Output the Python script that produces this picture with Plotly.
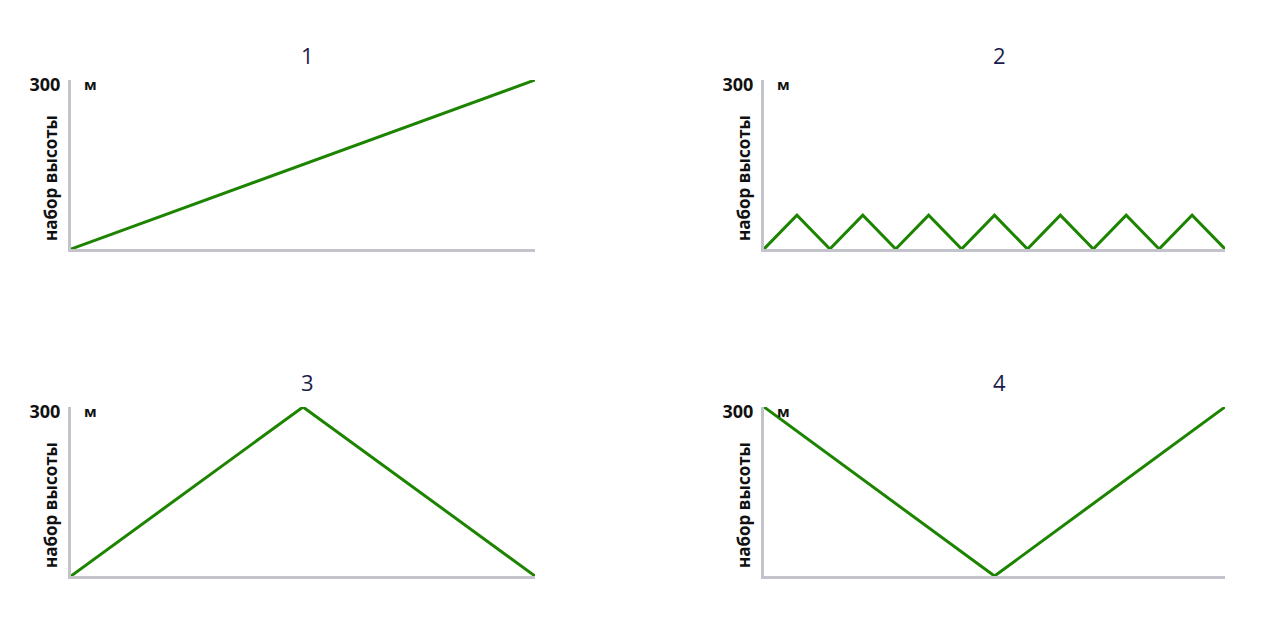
import plotly.graph_objects as go
from plotly.subplots import make_subplots

# Climb profiles (height gain, m) for four routes
titles = ["1", "2", "3", "4"]
x1 = [0, 14]
y1 = [0, 300]
x2 = list(range(15))
y2 = [0, 60, 0, 60, 0, 60, 0, 60, 0, 60, 0, 60, 0, 60, 0]
x3 = [0, 7, 14]
y3 = [0, 300, 0]
x4 = [0, 7, 14]
y4 = [300, 0, 300]
y_title = "набор высоты"
y_unit = "м"
y_max = 300

green = "#1d8400"
grey = "#c3c3cb"
navy = "#1c1c4c"
font = "Open Sans, Liberation Sans, sans-serif"

fig = make_subplots(rows=2, cols=2)

series = [(x1, y1), (x2, y2), (x3, y3), (x4, y4)]
domains_x = [[71 / 1280, 535 / 1280], [764 / 1280, 1225 / 1280]]
domains_y = [[(626 - 249) / 626, (626 - 80) / 626], [(626 - 576) / 626, (626 - 407) / 626]]

for i, (xs, ys) in enumerate(series):
    r, c = i // 2, i % 2
    fig.add_trace(go.Scatter(x=xs, y=ys, mode="lines", cliponaxis=False,
                             line=dict(color=green, width=3)), row=r + 1, col=c + 1)
    fig.update_xaxes(domain=domains_x[c], range=[0, 14], showline=True, linecolor=grey, linewidth=3,
                     showgrid=False, zeroline=False, showticklabels=False, ticks="", automargin=False,
                     row=r + 1, col=c + 1)
    fig.update_yaxes(domain=domains_y[r], range=[0, y_max], showline=True, linecolor=grey, linewidth=3,
                     showgrid=False, zeroline=False, tickvals=[y_max], ticktext=["<b>300</b>"],
                     ticks="", ticklabelstandoff=4, ticklabelshift=5, automargin=False,
                     tickfont=dict(size=18, color="#111111", family=font),
                     row=r + 1, col=c + 1)

    xa = "x domain" if i == 0 else "x%d domain" % (i + 1)
    ya = "y domain" if i == 0 else "y%d domain" % (i + 1)
    # panel number
    fig.add_annotation(text=titles[i], xref=xa, yref=ya, x=0.51, y=1.0, yshift=25, yanchor="middle",
                       showarrow=False, font=dict(size=22, color=navy, family=font))
    # unit
    fig.add_annotation(text="<b>" + y_unit + "</b>", xref=xa, yref=ya, x=0, y=1, xshift=11, yshift=-4,
                       xanchor="left", yanchor="middle", showarrow=False,
                       font=dict(size=15, color="#111111", family=font))
    # axis title
    fig.add_annotation(text="<b>" + y_title + "</b>", xref=xa, yref=ya, x=0, y=0.0, xshift=-21, yshift=6,
                       xanchor="center", yanchor="bottom", textangle=-90, showarrow=False,
                       font=dict(size=17, color="#111111", family=font))

fig.update_layout(width=1280, height=626, margin=dict(l=0, r=0, t=0, b=0),
                  plot_bgcolor="white", paper_bgcolor="white", showlegend=False,
                  font=dict(family=font))

fig.write_html("out.html", config={"displayModeBar": False},
               post_script="document.body.style.margin='0';document.body.style.overflow='hidden';")
